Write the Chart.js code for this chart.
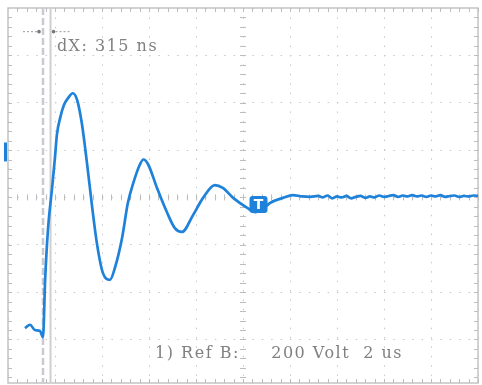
<!DOCTYPE html>
<html>
<head>
<meta charset="utf-8">
<script src="https://cdn.jsdelivr.net/npm/chart.js@4.4.0/dist/chart.umd.min.js"></script>
<style>
  html, body { margin: 0; padding: 0; background: #fff; overflow: hidden; }
</style>
</head>
<body>
<canvas id="scope" width="482" height="385"></canvas>
<script>
// trace, in divisions (x: 2 us/div, y: 200 V/div)
const timeDiv = [0.36, 0.47, 0.57, 0.68, 0.745, 0.79, 0.85, 0.94, 1.0, 1.04, 1.11, 1.19, 1.28, 1.38, 1.47,
  1.57, 1.68, 1.79, 1.89, 2.02, 2.17, 2.28, 2.43, 2.55, 2.68, 2.80, 2.88, 2.98, 3.17, 3.38, 3.55, 3.70, 3.94,
  4.15, 4.40, 4.57, 4.79, 5.09, 5.26, 5.40, 5.57, 5.85, 6.06, 6.25, 6.43,
  6.6, 6.7, 6.8, 6.9, 7.0, 7.1, 7.2, 7.3, 7.4, 7.5, 7.6, 7.7, 7.8, 7.9, 8.0, 8.1, 8.2, 8.3, 8.4, 8.5,
  8.6, 8.7, 8.8, 8.9, 9.0, 9.1, 9.2, 9.3, 9.4, 9.5, 9.6, 9.7, 9.8, 9.9, 10.0];
const voltDiv = [-2.76, -2.69, -2.80, -2.82, -2.95, -1.74, -0.69, 0.22, 0.85, 1.32, 1.68, 1.95, 2.10, 2.20, 2.06,
  1.57, 0.73, -0.20, -0.96, -1.60, -1.74, -1.47, -0.84, -0.12, 0.35, 0.68, 0.80, 0.70, 0.20, -0.31, -0.65, -0.73, -0.37,
  -0.01, 0.26, 0.20, -0.01, -0.22, -0.31, -0.27, -0.12, -0.01, 0.05, 0.02, 0.01,
  0.03, 0.00, 0.04, -0.02, 0.02, 0.00, 0.03, -0.02, 0.01, 0.03, -0.01, 0.02, 0.00, 0.04, 0.01, 0.03, 0.05, 0.01, 0.04, 0.02,
  0.05, 0.02, 0.04, 0.01, 0.04, 0.02, 0.05, 0.01, 0.03, 0.04, 0.01, 0.03, 0.02, 0.04, 0.03];

const xTicks = [0, 1, 2, 3, 4, 5, 6, 7, 8, 9, 10];
const yTicks = [-3, -2, -1, 0, 1, 2, 3, 4];
const cursors = [0.745, 0.905];
const cursorText = 'dX: 315 ns';
const refLabel = '1) Ref B:';
const scaleLabel = '200 Volt  2 us';
const trigger = [5.33, -0.14];
const groundLevel = 0.96;

const traceBlue = '#1f82da';
const textGray = '#808080';

const graticule = {
  id: 'graticule',
  beforeDatasetsDraw(chart) {
    const { ctx, chartArea: a, scales: { x, y } } = chart;
    ctx.save();
    // frame
    ctx.strokeStyle = '#c4c4c4';
    ctx.lineWidth = 1.5;
    ctx.strokeRect(a.left, a.top, a.right - a.left, a.bottom - a.top);

    // minor ticks on frame and centre lines
    ctx.strokeStyle = '#bdbdbd';
    ctx.lineWidth = 1;
    ctx.beginPath();
    const y0 = y.getPixelForValue(0);
    const x5 = x.getPixelForValue(5);
    for (let v = 0.2; v < 10; v += 0.2) {
      const px = Math.round(x.getPixelForValue(v)) + 0.5;
      ctx.moveTo(px, a.top); ctx.lineTo(px, a.top + 4);
      ctx.moveTo(px, a.bottom); ctx.lineTo(px, a.bottom - 4);
      ctx.moveTo(px, y0 - 3); ctx.lineTo(px, y0 + 3);
    }
    for (let v = 3.8; v > -3.9; v -= 0.2) {
      const py = Math.round(y.getPixelForValue(v)) + 0.5;
      ctx.moveTo(a.left, py); ctx.lineTo(a.left + 4, py);
      ctx.moveTo(a.right, py); ctx.lineTo(a.right - 4, py);
      ctx.moveTo(x5 - 3, py); ctx.lineTo(x5 + 3, py);
    }
    ctx.stroke();

    // time cursors
    const c1 = x.getPixelForValue(cursors[0]);
    const c2 = x.getPixelForValue(cursors[1]);
    ctx.strokeStyle = '#c9c9d2';
    ctx.lineWidth = 2.5;
    ctx.setLineDash([7, 3]);
    ctx.beginPath(); ctx.moveTo(c1, a.top); ctx.lineTo(c1, a.bottom); ctx.stroke();
    ctx.setLineDash([]);
    ctx.strokeStyle = '#cfcfcf';
    ctx.lineWidth = 2;
    ctx.beginPath(); ctx.moveTo(c2, a.top); ctx.lineTo(c2, a.bottom); ctx.stroke();

    // cursor handles
    const hy = y.getPixelForValue(3.5);
    ctx.strokeStyle = '#9a9a9a';
    ctx.lineWidth = 1;
    ctx.setLineDash([2, 2]);
    ctx.beginPath();
    ctx.moveTo(c1 - 20, hy); ctx.lineTo(c1 - 5, hy);
    ctx.moveTo(c2 + 5, hy); ctx.lineTo(c2 + 20, hy);
    ctx.stroke();
    ctx.setLineDash([]);
    ctx.fillStyle = '#777';
    ctx.beginPath(); ctx.arc(c1 - 4, hy, 1.8, 0, Math.PI * 2); ctx.fill();
    ctx.beginPath(); ctx.arc(c2 + 3, hy, 1.8, 0, Math.PI * 2); ctx.fill();
    ctx.restore();
  },
  afterDatasetsDraw(chart) {
    const { ctx, chartArea: a, scales: { x, y } } = chart;
    ctx.save();
    // ground marker
    ctx.fillStyle = traceBlue;
    const gTop = y.getPixelForValue(groundLevel + 0.2);
    const gBot = y.getPixelForValue(groundLevel - 0.2);
    ctx.fillRect(a.left - 4, gTop, 3, gBot - gTop);

    // trigger marker
    const tx = x.getPixelForValue(trigger[0]);
    const ty = y.getPixelForValue(trigger[1]);
    ctx.beginPath();
    ctx.roundRect(tx - 9, ty - 8, 18, 17, 3);
    ctx.fill();
    ctx.fillStyle = '#fff';
    ctx.font = 'bold 14px "DejaVu Sans"';
    ctx.textAlign = 'center';
    ctx.textBaseline = 'middle';
    ctx.fillText('T', tx, ty + 1);

    // labels
    ctx.fillStyle = textGray;
    ctx.font = '16px "DejaVu Serif"';
    ctx.letterSpacing = '1.5px';
    ctx.textAlign = 'left';
    ctx.textBaseline = 'alphabetic';
    ctx.fillText(cursorText, x.getPixelForValue(1.04), y.getPixelForValue(3.09));
    ctx.fillText(refLabel, x.getPixelForValue(3.13), y.getPixelForValue(-3.4));
    ctx.fillText(scaleLabel, x.getPixelForValue(5.6), y.getPixelForValue(-3.4));
    ctx.restore();
  }
};

new Chart(document.getElementById('scope').getContext('2d'), {
  type: 'line',
  data: {
    datasets: [{
      data: timeDiv.map((t, i) => ({ x: t, y: voltDiv[i] })),
      borderColor: traceBlue,
      borderWidth: 2.7,
      pointRadius: 0,
      cubicInterpolationMode: 'monotone',
      fill: false
    }]
  },
  options: {
    responsive: false,
    animation: false,
    layout: { padding: { left: 8, top: 8, right: 4, bottom: 2 } },
    plugins: { legend: { display: false }, tooltip: { enabled: false } },
    scales: {
      x: {
        type: 'linear',
        min: 0,
        max: 10,
        afterBuildTicks: axis => { axis.ticks = xTicks.map(v => ({ value: v })); },
        ticks: { display: false },
        grid: { color: '#c8c8c8', lineWidth: 1, drawTicks: false },
        border: { display: false, dash: [1.5, 7.9] }
      },
      y: {
        type: 'linear',
        min: -3.92,
        max: 4,
        afterBuildTicks: axis => { axis.ticks = yTicks.map(v => ({ value: v })); },
        ticks: { display: false },
        grid: { color: '#c8c8c8', lineWidth: 1, drawTicks: false },
        border: { display: false, dash: [1.5, 7.9] }
      }
    }
  },
  plugins: [graticule]
});
</script>
</body>
</html>
